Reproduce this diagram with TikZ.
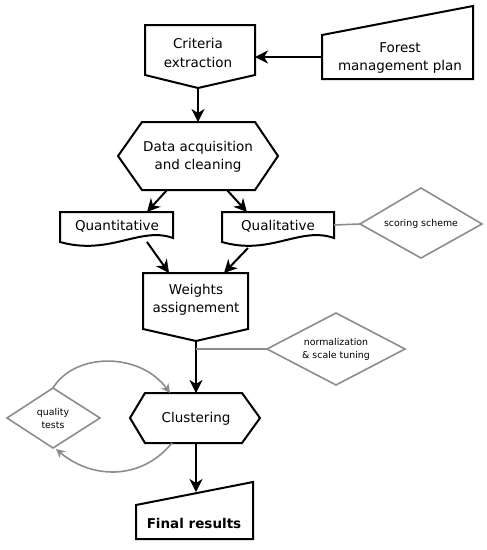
\documentclass[tikz,border=0pt]{standalone}
\usepackage{fontspec}
\setmainfont{DejaVu Sans}
\usetikzlibrary{arrows.meta}
\definecolor{lg}{HTML}{8C8C8C}
\begin{document}
\begin{tikzpicture}[x=1pt,y=-1pt,
  box/.style={draw=black,line width=2pt,line join=miter},
  txt/.style={align=center,font=\fontsize{13.5}{18.5}\selectfont,inner sep=0pt},
  small/.style={align=center,font=\fontsize{9.4}{13}\selectfont,inner sep=0pt},
  flow/.style={line width=2pt,-{Stealth[length=13pt,width=13pt,inset=4pt]}},
  note/.style={draw=lg,line width=1.6pt},
  loopar/.style={draw=lg,line width=1.6pt,-{Stealth[length=9pt,width=9pt,inset=3pt]}}]
\useasboundingbox (0,0) rectangle (487,550);
% shapes
\draw[box] (145,25) -- (255,25) -- (255,75) -- (198,88) -- (145,75) -- cycle;
\draw[box] (322,35) -- (473,6) -- (473,79) -- (322,79) -- cycle;
\draw[box] (118,156) -- (142,122) -- (255,122) -- (278,156) -- (255,190) -- (142,190) -- cycle;
\draw[box] (60,212) -- (173,212) -- (173,238) .. controls (140,226) and (110,256) .. (60,242) -- cycle;
\draw[box] (222,212) -- (334,212) -- (334,238) .. controls (300,226) and (270,256) .. (222,242) -- cycle;
\draw[box] (143,273) -- (248,273) -- (248,329) -- (196,341) -- (143,329) -- cycle;
\draw[box] (130,418) -- (145,393) -- (242,393) -- (260,418) -- (242,443) -- (145,443) -- cycle;
\draw[box] (136,505) -- (253,482) -- (253,539) -- (136,539) -- cycle;
\draw[note] (360,224) -- (421,188) -- (482,224) -- (421,258) -- cycle;
\draw[note] (267,349) -- (336,313) -- (405,349) -- (336,385) -- cycle;
\draw[note] (7,418) -- (53,388) -- (100,418) -- (53,448) -- cycle;
% texts
\node[txt] (crit) at (198,53) {Criteria\\extraction};
\node[txt] (fmp) at (400,58) {Forest\\management plan};
\node[txt] (data) at (198,157) {Data acquisition\\and cleaning};
\node[txt] (quant) at (117,226) {Quantitative};
\node[txt] (qual) at (278,226) {Qualitative};
\node[txt] (wgt) at (196,300) {Weights\\assignement};
\node[txt] (clu) at (196,419) {Clustering};
\node[txt,font=\fontsize{13.5}{16}\selectfont\bfseries] (fin) at (194,523) {Final results};
\node[small] (score) at (421,224) {scoring scheme};
\node[small] (norm) at (336,349.5) {normalization\\\& scale tuning};
\node[small] (qt) at (53,418) {quality\\tests};
% connection points
\coordinate (fmpL) at (322,57);
\coordinate (critR) at (255,57);
\coordinate (critB) at (198,88);
\coordinate (dataT) at (198,122);
\coordinate (dataBL) at (167,190);
\coordinate (dataBR) at (227,190);
\coordinate (quantT) at (147,212);
\coordinate (qualT) at (247,212);
\coordinate (quantB) at (147,242);
\coordinate (qualB) at (248,248);
\coordinate (wgtTL) at (169,273);
\coordinate (wgtTR) at (224,273);
\coordinate (qualR) at (334,225);
\coordinate (scoreL) at (360,224);
\coordinate (wgtB) at (196,341);
\coordinate (normJ) at (196,349);
\coordinate (normL) at (267,349);
\coordinate (cluT) at (196,393);
\coordinate (cluTL) at (170,393);
\coordinate (cluB) at (196,443);
\coordinate (cluBL) at (172,443);
\coordinate (finT) at (196,492);
\coordinate (qtT) at (53,388);
\coordinate (qtB) at (56,449);
% connectors
\draw[flow] (fmpL) -- (critR);
\draw[flow] (critB) -- (dataT);
\draw[flow] (dataBL) -- (quantT);
\draw[flow] (dataBR) -- (qualT);
\draw[flow] (quantB) -- (wgtTL);
\draw[flow] (qualB) -- (wgtTR);
\draw[note] (qualR) -- (scoreL);
\draw[flow] (wgtB) -- (cluT);
\draw[note] (normJ) -- (normL);
\draw[flow] (cluB) -- (finT);
\draw[loopar] (qtT) .. controls (75,352) and (140,352) .. (cluTL);
\draw[loopar] (cluBL) .. controls (140,482) and (90,478) .. (qtB);
\end{tikzpicture}
\end{document}
